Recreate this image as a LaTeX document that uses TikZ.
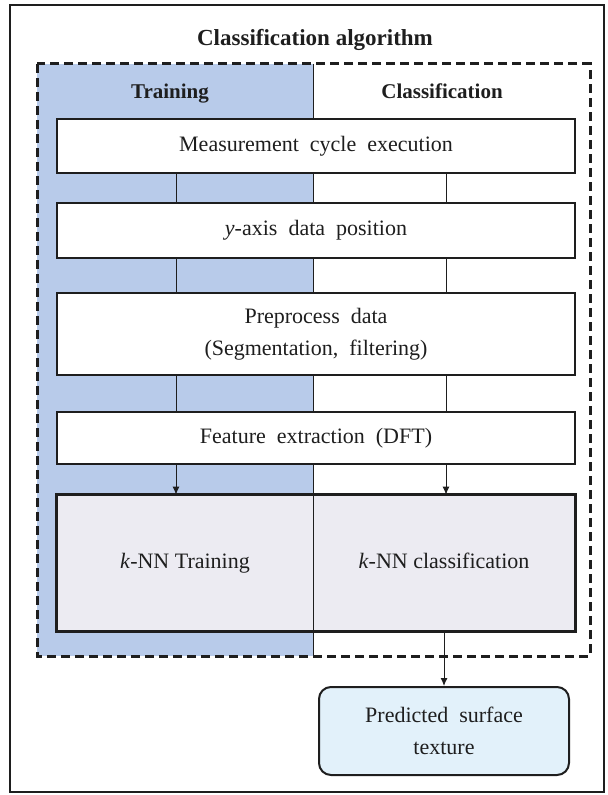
\documentclass[tikz,border=0pt]{standalone}
\usepackage{fontspec}
\setmainfont{Liberation Serif}
\usepackage{tikz}
\usetikzlibrary{positioning, arrows.meta}

\definecolor{trainblue}{RGB}{184,203,234}
\definecolor{knnfill}{RGB}{236,235,242}
\definecolor{predfill}{RGB}{226,241,250}
\definecolor{inkgray}{RGB}{30,30,30}

\begin{document}
\begin{tikzpicture}[x=0.5pt, y=-0.5pt,
    every node/.style={text=inkgray, font=\fontsize{11}{16}\selectfont},
    procbox/.style={draw=inkgray, line width=1.4pt, fill=white, minimum width=259pt, align=center, inner sep=0pt},
    knnbox/.style={fill=knnfill, minimum height=68pt, minimum width=128pt, inner sep=0pt, text height=8pt, text depth=2.5pt},
    predbox/.style={draw=inkgray, line width=1pt, rounded corners=6pt, fill=predfill, minimum width=125pt, minimum height=44pt, align=center},
    headline/.style={font=\fontsize{10.5}{12}\selectfont\bfseries, anchor=base},
    link/.style={draw=inkgray, line width=0.5pt},
    flow/.style={draw=inkgray, line width=0.5pt, -{Latex[length=4pt, width=3.5pt]}}
]
\useasboundingbox (0,0) rectangle (608,795);
\draw[inkgray, line width=1pt] (10,5) rectangle (604,792);
\node[font=\fontsize{11.5}{13}\selectfont\bfseries] (title) at (315,40) {Classification algorithm};

% training side and dashed frame
\fill[trainblue] (37,64) rectangle (313,656);
\draw[link] (313,64) -- (313,656);
\draw[inkgray, line width=1.5pt, dash pattern=on 4.5pt off 2.5pt] (37,64) rectangle (590,656);
\node[headline] (trainhead) at (170,99) {Training};
\node[headline] (clshead) at (442,99) {Classification};

% steps
\node[procbox, minimum height=27pt] (meas) at (316,146) {Measurement\ \ cycle\ \ execution};
\node[procbox, minimum height=27.5pt] (ypos) at (316,230.5) {\textit{y}-axis\ \ data\ \ position};
\node[procbox, minimum height=41pt] (prep) at (316,334) {Preprocess\ \ data\\(Segmentation,\ \ filtering)};
\node[procbox, minimum height=26pt] (feat) at (316,438) {Feature\ \ extraction\ \ (DFT)};

\node[knnbox] (knntrain) at (185,563) {\textit{k}-NN Training};
\node[knnbox, minimum width=131pt] (knncls) at (444,563) {\textit{k}-NN classification};
\draw[inkgray, line width=1.4pt] (knntrain.north west) rectangle (knncls.south east);
\draw[link] (knntrain.north east) -- (knntrain.south east);

\node[predbox] (pred) at (444,731) {Predicted\ \ surface\\texture};

% connectors
\coordinate (trainx) at (176,0);
\coordinate (clsx) at (446,0);
\foreach \a/\b in {meas/ypos, ypos/prep, prep/feat}
  \foreach \c in {trainx, clsx}
    \draw[link] (\a.south -| \c) -- (\b.north -| \c);
\foreach \c in {trainx, clsx}
  \draw[flow] (feat.south -| \c) -- (knntrain.north -| \c);
\draw[flow] (knncls.south) -- (pred.north);
\end{tikzpicture}
\end{document}
